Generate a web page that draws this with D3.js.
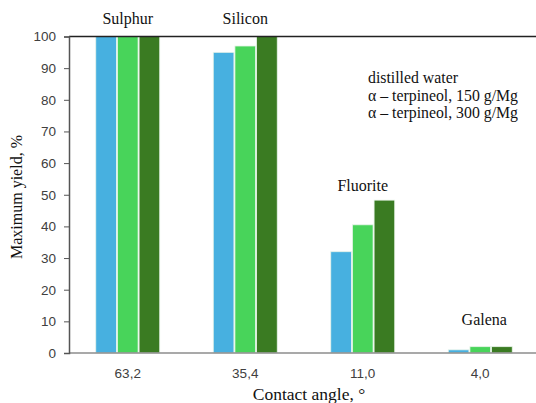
<!DOCTYPE html>
<html><head><meta charset="utf-8">
<script src="https://cdn.jsdelivr.net/npm/d3@7"></script>
<style>body{margin:0;background:#fff}svg{display:block}
.serif{font-family:'Liberation Serif','Times New Roman','DejaVu Serif',Tinos,serif}
.sans{font-family:'Liberation Sans',Arial,'DejaVu Sans',sans-serif}</style>
</head><body>
<svg id="c" width="536" height="403"></svg>
<script>
const categories = ["63,2", "35,4", "11,0", "4,0"];
const minerals = ["Sulphur", "Silicon", "Fluorite", "Galena"];
const seriesNames = ["distilled water", "α – terpineol, 150 g/Mg", "α – terpineol, 300 g/Mg"];
const distilledWater = [100, 95, 32, 1];
const terpineol150 = [100, 97, 40.5, 2];
const terpineol300 = [100, 100, 48.3, 2];
const yTicks = [0, 10, 20, 30, 40, 50, 60, 70, 80, 90, 100];
const colors = ["#47b0e0", "#48d45a", "#3a7b22"];

const series = [distilledWater, terpineol150, terpineol300];
const svg = d3.select("#c");
const m = {l: 69, t: 36.5, r: 539, b: 353};
const x = d3.scaleBand().domain(categories).range([m.l, m.r]).paddingInner(0.447).paddingOuter(0.2235);
const x1 = d3.scaleBand().domain(d3.range(3)).range([0, x.bandwidth()]).padding(0);
const y = d3.scaleLinear().domain([0, 100]).range([m.b, m.t]);

// bars
categories.forEach((c, i) => {
  const g = svg.append("g").attr("transform", `translate(${x(c)},0)`);
  series.forEach((s, j) => {
    g.append("rect")
      .attr("x", x1(j) + 0.5).attr("width", x1.bandwidth() - 1)
      .attr("y", y(s[i])).attr("height", y(0) - y(s[i]))
      .attr("fill", colors[j]).attr("stroke", "#e8f4ea").attr("stroke-width", 0.8);
  });
});

// top border
svg.append("line").attr("x1", m.l).attr("x2", 536).attr("y1", m.t).attr("y2", m.t)
  .attr("stroke", "#222").attr("stroke-width", 1.6);

// bottom axis line
svg.append("line").attr("x1", m.l).attr("x2", 536).attr("y1", m.b).attr("y2", m.b)
  .attr("stroke", "#8c8c8c").attr("stroke-width", 1.6);

// y axis
const ya = svg.append("g").attr("transform", `translate(${m.l},0)`)
  .call(d3.axisLeft(y).tickValues(yTicks).tickSize(5).tickPadding(8));
ya.attr("font-family", null);
ya.select(".domain").attr("stroke", "#555").attr("stroke-width", 1.5);
ya.selectAll(".tick line").attr("stroke", "#555");
ya.selectAll("text").attr("class", "sans").attr("font-size", 13.5).attr("fill", "#404040");

// x axis labels
const xa = svg.append("g").attr("transform", `translate(0,${m.b})`)
  .call(d3.axisBottom(x).tickSize(0).tickPadding(15));
xa.attr("font-family", null);
xa.select(".domain").remove();
xa.selectAll("text").attr("class", "sans").attr("font-size", 13.5).attr("fill", "#404040");

// mineral labels
const labelY = [24, 24, 191, 325];
categories.forEach((c, i) => {
  svg.append("text").attr("class", "serif").attr("x", x(c) + x.bandwidth() / 2 + (i === 3 ? 4 : 0))
    .attr("y", labelY[i]).attr("text-anchor", "middle")
    .attr("font-size", 16).attr("fill", "#111").text(minerals[i]);
});

// legend (text only)
seriesNames.forEach((n, j) => {
  svg.append("text").attr("class", "serif").attr("x", 368).attr("y", 83 + j * 17.5)
    .attr("font-size", 15.8).attr("fill", "#111").text(n);
});

// axis titles
svg.append("text").attr("class", "serif").attr("transform", "translate(22,197) rotate(-90)").attr("text-anchor", "middle")
  .attr("font-size", 16).attr("fill", "#111").text("Maximum yield, %");
svg.append("text").attr("class", "serif").attr("x", 309).attr("y", 400).attr("text-anchor", "middle")
  .attr("font-size", 17.5).attr("fill", "#111").text("Contact angle, °");
</script>
</body></html>
